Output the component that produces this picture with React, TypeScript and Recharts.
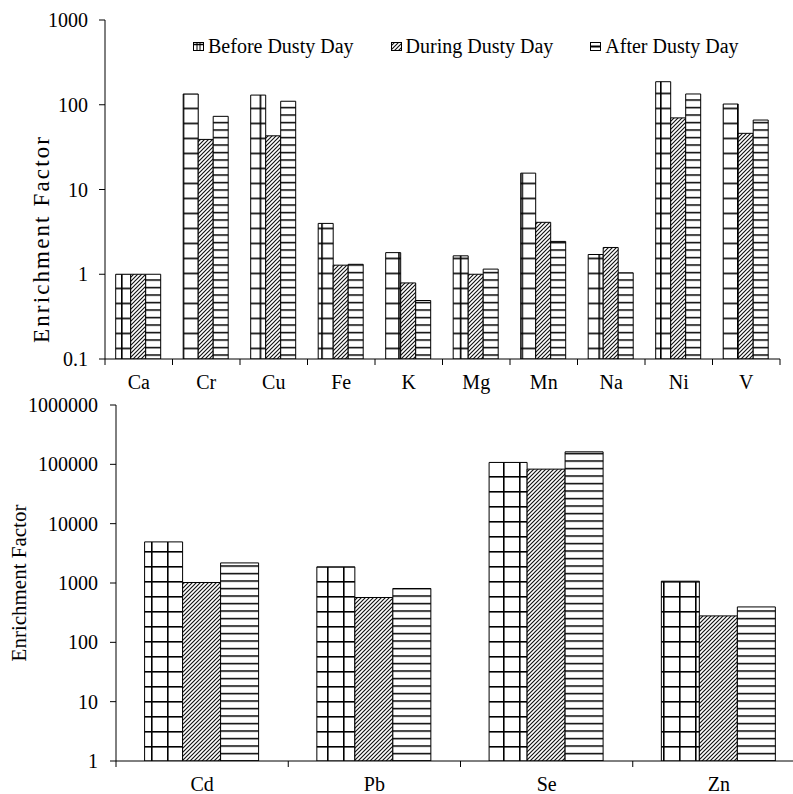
import React from 'react';
import { BarChart, Bar, XAxis, YAxis, Legend } from 'recharts';

const FONT = '"Liberation Serif", "Times New Roman", Times, serif';

// ---- Data ----
const topCategories = ['Ca', 'Cr', 'Cu', 'Fe', 'K', 'Mg', 'Mn', 'Na', 'Ni', 'V'];
const topBefore = [1, 134, 130, 3.98, 1.8, 1.65, 15.6, 1.71, 187, 102];
const topDuring = [1, 39, 43, 1.28, 0.79, 1.0, 4.1, 2.07, 70, 46];
const topAfter = [1, 73, 110, 1.31, 0.49, 1.15, 2.44, 1.04, 134, 66];
const topTicks = [0.1, 1, 10, 100, 1000];

const bottomCategories = ['Cd', 'Pb', 'Se', 'Zn'];
const bottomBefore = [4930, 1870, 107700, 1072];
const bottomDuring = [1020, 570, 83000, 279];
const bottomAfter = [2180, 808, 162500, 395];
const bottomTicks = [1, 10, 100, 1000, 10000, 100000, 1000000];

const seriesNames = ['Before Dusty Day', 'During Dusty Day', 'After Dusty Day'];

const topData = topCategories.map((name, i) => ({
  name,
  before: topBefore[i],
  during: topDuring[i],
  after: topAfter[i],
}));
const bottomData = bottomCategories.map((name, i) => ({
  name,
  before: bottomBefore[i],
  during: bottomDuring[i],
  after: bottomAfter[i],
}));

// ---- Custom x tick: boundary tick marks + centered label ----
const makeTick = (cats: string[], labelDy: number, fallbackHalf: number) => (props: any) => {
  const { x, y, payload } = props;
  const half = payload && typeof payload.offset === 'number' && payload.offset > 0 ? payload.offset : fallbackHalf;
  const isLast = payload && payload.value === cats[cats.length - 1];
  return (
    <g>
      <line x1={x - half} x2={x - half} y1={y} y2={y + 6} stroke="#000" strokeWidth={1} />
      {isLast && <line x1={x + half} x2={x + half} y1={y} y2={y + 6} stroke="#000" strokeWidth={1} />}
      <text x={x} y={y + labelDy} textAnchor="middle" fontSize={20} fontFamily={FONT} fill="#000">
        {payload.value}
      </text>
    </g>
  );
};

const topTick = makeTick(topCategories, 30, 675 / 10 / 2);
const bottomTick = makeTick(bottomCategories, 30, 689 / 4 / 2);

const topTitle = () => (
  <text
    x={41}
    y={240}
    transform="rotate(-90 41 240)"
    textAnchor="middle"
    dominantBaseline="central"
    fontSize={23}
    fontFamily={FONT}
    fill="#000"
    textLength={206}
    lengthAdjust="spacing"
  >
    Enrichment Factor
  </text>
);

const bottomTitle = () => (
  <text
    x={19}
    y={188}
    transform="rotate(-90 19 188)"
    textAnchor="middle"
    dominantBaseline="central"
    fontSize={21}
    fontFamily={FONT}
    fill="#000"
  >
    Enrichment Factor
  </text>
);

const Patterns = ({ p, beforeW, bx, by, ay }: { p: string; beforeW: number; bx: number; by: number; ay: number }) => (
  <defs>
    <pattern id={`${p}-before`} patternUnits="userSpaceOnUse" x={bx} y={by} width={beforeW} height={15}>
      <rect x={0} y={0} width={beforeW} height={15} fill="#fff" />
      <rect x={0} y={0} width={1.6} height={15} fill="#000" />
      <rect x={0} y={0} width={beforeW} height={1.6} fill="#000" />
    </pattern>
    <pattern id={`${p}-during`} patternUnits="userSpaceOnUse" x={0} y={0} width={4} height={4}>
      <rect x={0} y={0} width={4} height={4} fill="#fff" />
      <path d="M0,4 L4,0 M-1,1 L1,-1 M3,5 L5,3" stroke="#111" strokeWidth={1.15} />
    </pattern>
    <pattern id={`${p}-after`} patternUnits="userSpaceOnUse" x={0} y={ay} width={10} height={7.5}>
      <rect x={0} y={0} width={10} height={7.5} fill="#fff" />
      <rect x={0} y={0} width={10} height={1.5} fill="#000" />
    </pattern>
  </defs>
);

const LegendIcon = ({ i }: { i: number }) => (
  <svg width={11} height={9} style={{ marginRight: 4, display: 'block' }}>
    {i === 0 && (
      <g>
        <rect x={0.5} y={0.5} width={10} height={8} fill="#fff" stroke="#000" />
        <line x1={0.5} x2={10.5} y1={2.5} y2={2.5} stroke="#000" strokeWidth={1.5} />
        <line x1={4} x2={4} y1={0.5} y2={8.5} stroke="#000" />
        <line x1={7} x2={7} y1={0.5} y2={8.5} stroke="#000" />
      </g>
    )}
    {i === 1 && <rect x={0.5} y={0.5} width={10} height={8} fill="url(#t-during)" stroke="#000" />}
    {i === 2 && (
      <g>
        <rect x={0.5} y={0.5} width={10} height={8} fill="#fff" stroke="#000" />
        <line x1={0.5} x2={10.5} y1={4.5} y2={4.5} stroke="#000" strokeWidth={2} />
      </g>
    )}
  </svg>
);

const renderLegend = () => (
  <div
    style={{
      display: 'flex',
      alignItems: 'center',
      fontFamily: FONT,
      fontSize: 20,
      lineHeight: '20px',
      color: '#000',
      whiteSpace: 'nowrap',
    }}
  >
    {seriesNames.map((n, i) => (
      <div key={n} style={{ display: 'flex', alignItems: 'center', marginRight: 37 }}>
        <LegendIcon i={i} />
        <span>{n}</span>
      </div>
    ))}
  </div>
);

export default function App() {
  return (
    <div
      style={{
        position: 'absolute',
        left: 0,
        top: 0,
        width: 793,
        height: 794,
        overflow: 'hidden',
        background: '#fff',
      }}
    >
      <div style={{ position: 'absolute', left: 0, top: 0 }}>
        <BarChart
          width={793}
          height={395}
          data={topData}
          margin={{ top: 20, right: 13, left: 0, bottom: 0 }}
          barCategoryGap={10.7}
          barGap={0}
        >
          <Patterns p="t" beforeW={15.4} bx={13.2} by={2.6} ay={1.8} />
          <XAxis
            dataKey="name"
            interval={0}
            tickLine={false}
            tickSize={0}
            tickMargin={0}
            axisLine={{ stroke: '#000', strokeWidth: 1 }}
            tick={topTick}
            height={36}
          />
          <YAxis
            type="number"
            scale="log"
            domain={[0.1, 1000]}
            ticks={topTicks}
            interval={0}
            allowDataOverflow
            width={105}
            tickSize={6}
            tickMargin={11}
            axisLine={{ stroke: '#000', strokeWidth: 1 }}
            tickLine={{ stroke: '#000', strokeWidth: 1 }}
            tick={{ fill: '#000', fontSize: 20, fontFamily: FONT }}
            label={topTitle}
          />
          <Legend
            verticalAlign="middle"
            align="center"
            layout="horizontal"
            content={renderLegend}
            wrapperStyle={{ top: 36, left: 193, width: 600, height: 20 }}
          />
          <Bar dataKey="before" name={seriesNames[0]} fill="url(#t-before)" stroke="#000" strokeWidth={1} isAnimationActive={false} />
          <Bar dataKey="during" name={seriesNames[1]} fill="url(#t-during)" stroke="#000" strokeWidth={1} isAnimationActive={false} />
          <Bar dataKey="after" name={seriesNames[2]} fill="url(#t-after)" stroke="#000" strokeWidth={1} isAnimationActive={false} />
        </BarChart>
      </div>
      <div style={{ position: 'absolute', left: 0, top: 395 }}>
        <BarChart
          width={820}
          height={399}
          data={bottomData}
          margin={{ top: 10, right: 15, left: 0, bottom: 0 }}
          barCategoryGap={28.6}
          barGap={0}
        >
          <Patterns p="b" beforeW={16} bx={7} by={6} ay={5.3} />
          <XAxis
            dataKey="name"
            interval={0}
            tickLine={false}
            tickSize={0}
            tickMargin={0}
            axisLine={{ stroke: '#000', strokeWidth: 1 }}
            tick={bottomTick}
            height={33}
          />
          <YAxis
            type="number"
            scale="log"
            domain={[1, 1000000]}
            ticks={bottomTicks}
            interval={0}
            allowDataOverflow
            width={116}
            tickSize={6}
            tickMargin={12}
            axisLine={{ stroke: '#000', strokeWidth: 1 }}
            tickLine={{ stroke: '#000', strokeWidth: 1 }}
            tick={{ fill: '#000', fontSize: 20, fontFamily: FONT }}
            label={bottomTitle}
          />
          <Bar dataKey="before" name={seriesNames[0]} fill="url(#b-before)" stroke="#000" strokeWidth={1} isAnimationActive={false} />
          <Bar dataKey="during" name={seriesNames[1]} fill="url(#b-during)" stroke="#000" strokeWidth={1} isAnimationActive={false} />
          <Bar dataKey="after" name={seriesNames[2]} fill="url(#b-after)" stroke="#000" strokeWidth={1} isAnimationActive={false} />
        </BarChart>
      </div>
    </div>
  );
}
